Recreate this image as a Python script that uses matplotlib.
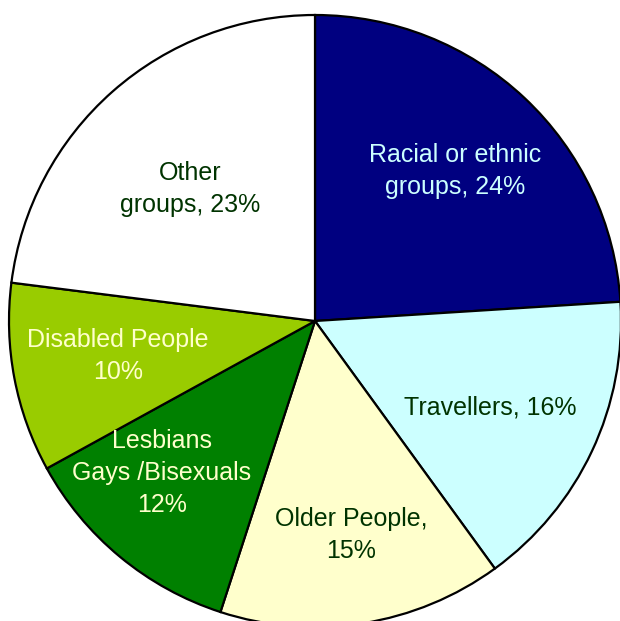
import matplotlib.pyplot as plt

# share of groups, clockwise from 12 o'clock
groups = ["Racial or ethnic\ngroups, 24%", "Travellers, 16%", "Older People,\n15%",
          "Lesbians\nGays /Bisexuals\n12%", "Disabled People\n10%", "Other\ngroups, 23%"]
shares = [24, 16, 15, 12, 10, 23]

fills = ["#000080", "#CCFFFF", "#FFFFCC", "#008000", "#99CC00", "#FFFFFF"]
ink = ["#CCFFFF", "#003300", "#003300", "#FFFFCC", "#FFFFCC", "#003300"]
# label centres in pixel units (origin bottom left)
spots = [(455, 450), (490, 213), (351, 86), (162, 148), (118, 265), (190, 432)]

plt.rcParams['font.family'] = ['Liberation Sans', 'DejaVu Sans']

fig = plt.figure(figsize=(6.2, 6.21), dpi=100)
ax = fig.add_axes([0, 0, 1, 1])

ax.pie(shares, colors=fills, startangle=90, counterclock=False,
       center=(315, 300), radius=306, frame=True,
       wedgeprops=dict(edgecolor='black', linewidth=1.6))
ax.set_xlim(0, 620)
ax.set_ylim(0, 621)
ax.set_aspect('equal')
ax.axis('off')

for txt, (x, y), c in zip(groups, spots, ink):
    ax.text(x, y, txt, color=c, fontsize=18, ha='center', va='center',
            linespacing=1.4)

fig.savefig("out.png", dpi=100)
